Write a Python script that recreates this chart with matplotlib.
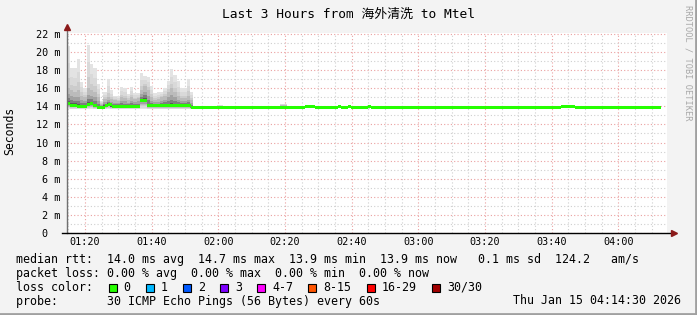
import numpy as np
import matplotlib
matplotlib.use("Agg")
import matplotlib.pyplot as plt
import matplotlib.dates as mdates
import matplotlib.patches as mpatches
from matplotlib.lines import Line2D
from datetime import datetime, timedelta

# dati (minuti dall'inizio, 01:14:30)
t_start = datetime(2026, 1, 15, 1, 14, 30)
t_end = datetime(2026, 1, 15, 4, 14, 30)

# mediana: punti di cambio (minuti) e valori in ms
med_t = [0, 1, 3, 6, 7, 8, 9, 11.5, 12.5, 13.5, 22, 24, 37.3, 71.5, 74.5, 81.4, 82.3, 84.4, 85.3, 90.4, 91.3, 148.3, 152.5]
med_v = [14.3, 14.1, 14.0, 14.2, 14.3, 14.05, 13.87, 14.05, 14.2, 14.0, 14.7, 14.05, 13.9, 14.0, 13.9, 14.0, 13.9, 14.0, 13.9, 14.0, 13.9, 14.0, 13.9]
med_end = 178.3

# fumo: un valore per minuto (massimo e parte scura)
smoke_min = [0, 1, 2, 3, 4, 5, 6, 7, 8, 9, 10, 11, 12, 13, 14, 15, 16, 17, 18, 19,
             20, 21, 22, 23, 24, 25, 26, 27, 28, 29, 30, 31, 32, 33, 34, 35, 36, 37,
             45, 46, 64, 65, 90]
smoke_top = [20.7, 18.2, 18.2, 19.2, 16.7, 16.0, 20.8, 18.7, 18.2, 16.5, 14.6, 15.6,
             17.0, 15.8, 15.2, 15.2, 16.1, 16.0, 15.4, 16.1, 15.5, 15.5, 17.7, 17.4,
             17.2, 16.3, 15.5, 15.6, 15.6, 16.0, 16.8, 18.1, 17.5, 16.8, 16.0, 16.0,
             17.0, 15.6, 14.2, 14.2, 14.3, 14.3, 14.2]
smoke_mid = [16.0, 15.8, 15.6, 15.8, 15.2, 15.0, 16.0, 15.8, 15.6, 15.0, 14.3, 14.8,
             15.0, 14.8, 14.7, 14.6, 15.0, 14.9, 14.7, 15.0, 14.8, 14.9, 15.8, 16.2,
             15.8, 15.0, 14.7, 14.8, 15.0, 15.2, 15.6, 16.0, 15.6, 15.2, 14.9, 14.9,
             15.2, 14.7, 14.05, 14.05, 14.1, 14.1, 14.05]
smoke_low = 13.7

loss_labels = ["0", "1", "2", "3", "4-7", "8-15", "16-29", "30/30"]
loss_colors = ["#26ff00", "#00b8ff", "#0059ff", "#7e00ff", "#ff00ff", "#ff5500", "#ff0000", "#a10000"]

title = "Last 3 Hours from 海外清洗 to Mtel"
row1 = "median rtt:  14.0 ms avg  14.7 ms max  13.9 ms min  13.9 ms now   0.1 ms sd  124.2   am/s"
row2 = "packet loss: 0.00 % avg  0.00 % max  0.00 % min  0.00 % now"
row3 = "loss color:"
row4 = "probe:       30 ICMP Echo Pings (56 Bytes) every 60s"
stamp = "Thu Jan 15 04:14:30 2026"

W, H = 697, 315
mono = "DejaVu Sans Mono"
bg = "#f3f3f3"

fig = plt.figure(figsize=(W / 100, H / 100), dpi=100, facecolor=bg)
ax = fig.add_axes([66.7 / W, 1 - 233 / H, 600 / W, 200 / H])
ax.set_facecolor("white")

x0 = mdates.date2num(t_start)
def xm(m):
    return x0 + np.asarray(m, dtype=float) / 1440.0

def med_at(m):
    i = np.searchsorted(med_t, m, side="right") - 1
    return med_v[max(i, 0)]

# fumo a strati
grays = ["#e3e3e3", "#d9d9d9", "#cccccc", "#bbbbbb", "#a2a2a2", "#7e7e7e", "#5a5a5a"]
for m, top, q in zip(smoke_min, smoke_top, smoke_mid):
    med = med_at(m + 0.5)
    ups = [top, q + (top - q) * 0.6, q + (top - q) * 0.25, q,
           med + (q - med) * 0.6, med + (q - med) * 0.35, med + (q - med) * 0.15]
    los = [smoke_low + (med - smoke_low) * f for f in (0, 0.15, 0.3, 0.45, 0.6, 0.75, 0.88)]
    for up, lo, c in zip(ups, los, grays):
        ax.bar(xm(m), up - lo, bottom=lo, width=1 / 1440, align="edge",
               color=c, linewidth=0, antialiased=False, zorder=2)

# linea mediana (banda verde)
mx = list(med_t) + [med_end]
mv = np.array(list(med_v) + [med_v[-1]])
h = 0.166
ax.fill_between(xm(mx), mv - h, mv + h, step="post", color="#26ff00", linewidth=0, zorder=3)

ax.set_xlim(x0, mdates.date2num(t_end))
ax.set_ylim(0, 22.11)

ax.xaxis.set_major_locator(mdates.MinuteLocator(byminute=[0, 20, 40]))
ax.xaxis.set_minor_locator(mdates.MinuteLocator(byminute=range(0, 60, 5)))
ax.xaxis.set_major_formatter(mdates.DateFormatter("%H:%M"))
ax.yaxis.set_major_locator(plt.MultipleLocator(2))
ax.yaxis.set_minor_locator(plt.MultipleLocator(1))
ax.yaxis.set_major_formatter(plt.FuncFormatter(lambda v, p: "0  " if v == 0 else "%d m" % v))

ax.set_axisbelow(True)
ax.grid(which="major", color="#eaa0a0", linestyle=(0, (1, 2)), linewidth=0.8)
ax.grid(which="minor", color="#cfcfcf", linestyle=(0, (1, 2)), linewidth=0.8)

ax.tick_params(which="both", length=0)
ax.tick_params(axis="y", pad=4.8, labelsize=7.3)
ax.tick_params(axis="x", pad=3.0, labelsize=7.3)
for lab in ax.get_xticklabels() + ax.get_yticklabels():
    lab.set_family(mono)

for s in ax.spines.values():
    s.set_visible(False)
# assi con frecce
ax.add_line(Line2D([0, 0], [0, 1.02], transform=ax.transAxes, color="#707070", lw=1, clip_on=False, zorder=5))
ax.add_line(Line2D([-0.008, 1.01], [0, 0], transform=ax.transAxes, color="black", lw=1, clip_on=False, zorder=5))
ax.plot([0], [1.03], marker="^", color="#8b1a1a", markersize=4, transform=ax.transAxes, clip_on=False, zorder=6)
ax.plot([1.012], [0], marker=">", color="#8b1a1a", markersize=4, transform=ax.transAxes, clip_on=False, zorder=6)

fig.text(0.5, 1 - 14 / H, title, ha="center", va="center", fontsize=9.3,
         family=[mono, "Noto Sans CJK SC"])
fig.text(10 / W, 1 - 131 / H, "Seconds", rotation=90, ha="center", va="center",
         fontsize=8.3, family=mono)
fig.text(688 / W, 1 - 5 / H, "RRDTOOL / TOBI OETIKER", rotation=270, ha="center", va="top",
         fontsize=6.2, family=mono, color="#a8a8a8")

fs = 8.4
fig.text(16 / W, 1 - 259.5 / H, row1, ha="left", va="center", fontsize=fs, family=mono)
fig.text(16 / W, 1 - 273.3 / H, row2, ha="left", va="center", fontsize=fs, family=mono)
fig.text(16 / W, 1 - 287.2 / H, row3, ha="left", va="center", fontsize=fs, family=mono)
fig.text(16 / W, 1 - 301 / H, row4, ha="left", va="center", fontsize=fs, family=mono)
fig.text(681 / W, 1 - 301 / H, stamp, ha="right", va="center", fontsize=fs, family=mono)

bx = 108.5
for lbl, c in zip(loss_labels, loss_colors):
    fig.patches.append(mpatches.Rectangle((bx / W, 1 - 291.5 / H), 8 / W, 8 / H,
                                          transform=fig.transFigure, facecolor=c,
                                          edgecolor="black", linewidth=0.8))
    fig.text((bx + 15) / W, 1 - 287.2 / H, lbl, ha="left", va="center", fontsize=fs, family=mono)
    bx += 30.2 + 7 * len(lbl)

# bordo del riquadro
fig.add_artist(Line2D([1 - 1 / W, 1 - 1 / W], [0, 1], transform=fig.transFigure, color="#a0a0a0", lw=2))
fig.add_artist(Line2D([0, 1], [1 / H, 1 / H], transform=fig.transFigure, color="#a0a0a0", lw=2))

fig.savefig("out.png", dpi=100, facecolor=bg)
